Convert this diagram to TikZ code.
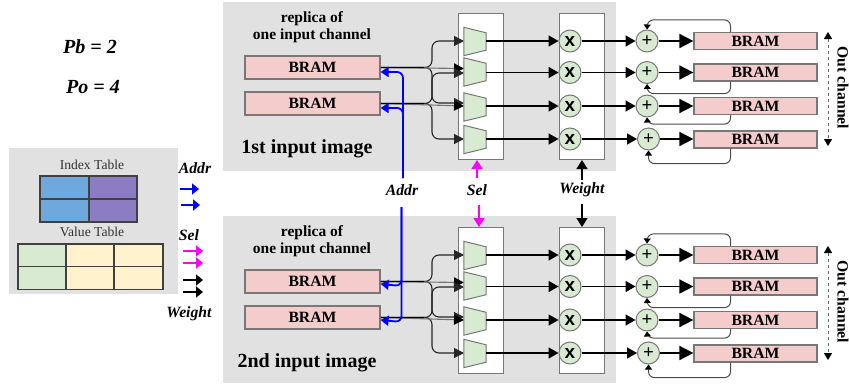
\documentclass[tikz,border=0pt]{standalone}
\usepackage{fontspec}
\setmainfont{Liberation Serif}
\setsansfont{Liberation Sans}
\usetikzlibrary{arrows.meta}
\definecolor{panel}{HTML}{E1E1E1}
\definecolor{edgegray}{HTML}{777777}
\definecolor{bramred}{HTML}{F4CCCC}
\definecolor{opgreen}{HTML}{D9EAD3}
\definecolor{tabblue}{HTML}{6FA8DC}
\definecolor{tabpurple}{HTML}{8E7CC3}
\definecolor{tabyellow}{HTML}{FFF2CC}
\definecolor{sigblue}{HTML}{0000FF}
\definecolor{sigmag}{HTML}{FF00FF}
\tikzset{
  panelbox/.style={fill=panel,draw=none,anchor=north west,inner sep=0pt},
  holder/.style={fill=white,draw=edgegray,line width=1pt,anchor=north west,inner sep=0pt,minimum width=45pt,minimum height=146pt},
  brambox/.style={fill=bramred,draw=edgegray,line width=1.2pt,inner sep=0pt,font=\fontsize{15.7}{16}\selectfont\bfseries},
  inbram/.style={brambox,minimum width=135pt,minimum height=23pt},
  outbram/.style={brambox,minimum width=123pt,minimum height=17pt},
  muxarea/.style={minimum width=22pt,minimum height=28pt,inner sep=0pt},
  muxpoly/.style={fill=opgreen,draw=edgegray,line width=1pt},
  opcirc/.style={circle,fill=opgreen,draw=edgegray,line width=1pt,minimum size=22pt,inner sep=0pt},
  mulglyph/.style={font=\sffamily\fontsize{19}{19}\selectfont\bfseries,inner sep=0pt},
  addglyph/.style={font=\fontsize{19}{19}\selectfont\bfseries,inner sep=0pt},
  bigsig/.style={line width=1.6pt,-{Triangle[length=10pt,width=11pt]}},
  medsig/.style={line width=1.5pt,-{Triangle[length=9pt,width=11pt]}},
  hugesig/.style={line width=1.6pt,-{Triangle[length=14pt,width=14pt]}},
  fan/.style={line width=1.1pt,draw=black!85,rounded corners=7pt,-{Triangle[length=10pt,width=10pt]}},
  fanflat/.style={line width=1.1pt,draw=black!55,-{Triangle[length=10pt,width=10pt,black]}},
  fback/.style={line width=1pt,draw=black!70,rounded corners=6pt,-{Triangle[length=5pt,width=7pt,black]}},
  sigblue line/.style={line width=1.8pt,draw=sigblue,rounded corners=6pt,-{Triangle[length=8pt,width=10pt]}},
  keyarrow/.style={line width=1.7pt,-{Triangle[length=7pt,width=11pt]}},
  sigtext/.style={font=\fontsize{15.7}{16}\selectfont\bfseries\itshape,inner sep=0pt},
  paramtext/.style={font=\fontsize{20}{21}\selectfont\bfseries\itshape,inner sep=0pt},
  smalltitle/.style={font=\fontsize{15.5}{17}\selectfont\bfseries,align=center,inner sep=0pt},
  imagetitle/.style={font=\fontsize{20}{21}\selectfont\bfseries,inner sep=0pt},
  tabletitle/.style={font=\fontsize{13.6}{14}\selectfont,text=black!80,inner sep=0pt},
  cellbox/.style={draw=black!75,line width=1.5pt,anchor=north west,inner sep=0pt},
}
\begin{document}
\begin{tikzpicture}[x=1pt,y=-1pt]
\useasboundingbox (0,0) rectangle (849,383);
% panels
\node[panelbox,minimum width=393pt,minimum height=169pt] (panelA) at (223,2) {};
\node[panelbox,minimum width=393pt,minimum height=167pt] (panelB) at (223,216) {};
\node[panelbox,minimum width=169pt,minimum height=146pt] (panelK) at (9,148) {};
% global texts
\node[paramtext] (pb) at (90,47) {Pb = 2};
\node[paramtext] (po) at (93,87) {Po = 4};
% key panel
\node[tabletitle] (ixt) at (92,165) {Index Table};
\node[tabletitle] (vlt) at (92,232) {Value Table};
\foreach \nm/\xa/\ya/\cw/\col in {ia/39/175/49/tabblue,ib/88/175/48/tabpurple,ic/39/198/49/tabblue,id/88/198/48/tabpurple,
  va/17/243/48/opgreen,vb/65/243/48/tabyellow,vc/113/243/49/tabyellow,vd/17/265.5/48/opgreen,ve/65/265.5/48/tabyellow,vf/113/265.5/49/tabyellow}{
  \node[cellbox,fill=\col,minimum width=\cw pt,minimum height=23pt] (\nm) at (\xa,\ya) {};
}
\node[sigtext] (kaddr) at (195,168) {Addr};
\node[sigtext] (ksel) at (189,235) {Sel};
\node[sigtext] (kwei) at (189,314) {Weight};
\coordinate (ka1) at (180,189); \coordinate (ka2) at (199,189);
\coordinate (ka3) at (181,205); \coordinate (ka4) at (200,205);
\coordinate (ks1) at (183,251); \coordinate (ks2) at (203,251);
\coordinate (ks3) at (183,263); \coordinate (ks4) at (203,263);
\coordinate (kw1) at (183,280); \coordinate (kw2) at (203,280);
\coordinate (kw3) at (183,292); \coordinate (kw4) at (203,292);
\draw[keyarrow,sigblue] (ka1) -- (ka2);
\draw[keyarrow,sigblue] (ka3) -- (ka4);
\draw[keyarrow,sigmag] (ks1) -- (ks2);
\draw[keyarrow,sigmag] (ks3) -- (ks4);
\draw[keyarrow] (kw1) -- (kw2);
\draw[keyarrow] (kw3) -- (kw4);
% the two image blocks
\foreach \p/\dy/\ttl/\tty in {t/0/1st input image/148.5,b/214/2nd input image/362.5}{
\begin{scope}[shift={(0,\dy)}]
  \node[smalltitle] (\p title) at (312,27) {replica of\\one input channel};
  \node[inbram] (\p in1) at (312.5,67.5) {BRAM};
  \node[inbram] (\p in2) at (312.5,103.5) {BRAM};
  \node[holder] (\p muxh) at (458,13) {};
  \node[holder] (\p mulh) at (559,13) {};
  \node[muxarea] (\p mux1) at (475,41.5) {};
  \node[muxarea] (\p mux2) at (475,72) {};
  \node[muxarea] (\p mux3) at (475,107) {};
  \node[muxarea] (\p mux4) at (475,139.5) {};
  \node[opcirc] (\p mul1) at (570,41) {};
  \node[opcirc] (\p mul2) at (570,72.5) {};
  \node[opcirc] (\p mul3) at (570,106) {};
  \node[opcirc] (\p mul4) at (570,139) {};
  \node[opcirc] (\p add1) at (647,41) {};
  \node[opcirc] (\p add2) at (647,72.5) {};
  \node[opcirc] (\p add3) at (647,106) {};
  \node[opcirc] (\p add4) at (648.5,139) {};
  \node[outbram] (\p out1) at (755.5,41) {BRAM};
  \node[outbram] (\p out2) at (755.5,72.5) {BRAM};
  \node[outbram] (\p out3) at (755.5,106) {BRAM};
  \node[outbram] (\p out4) at (755.5,139.5) {BRAM};
  \foreach \k in {1,2,3,4}{
    \node[mulglyph] at (\p mul\k.center) {x};
    \node[addglyph] at (\p add\k.center) {+};
  }
  % fan-out
  \draw[fan] (\p in1.east) -- (432,67.5) -- (432,41) -- (464,41);
  \draw[fan] (\p in1.east) -- (432,67.5) -- (432,103) -- (464,103);
  \draw[fanflat] (\p in1.east) -- (464,68.5);
  \draw[fan] (\p in2.east) -- (432,103.5) -- (432,73) -- (464,73);
  \draw[fan] (\p in2.east) -- (432,103.5) -- (432,139) -- (464,139);
  \draw[fanflat] (\p in2.east) -- (464,106);
  \draw[line width=1.3pt] (\p in1.east) -- (424,67.5);
  \draw[line width=1.3pt] (\p in2.east) -- (424,103.5);
  % data path
  \foreach \k in {1,2,3,4}{
    \draw[muxpoly] (\p mux\k.north west) -- ([yshift=-5.5pt]\p mux\k.north east) -- ([yshift=5.5pt]\p mux\k.south east) -- (\p mux\k.south west) -- cycle;
    \draw[bigsig] (\p mul\k.west -| \p mux\k.east) -- (\p mul\k.west);
    \draw[bigsig] (\p mul\k.east) -- (\p add\k.west);
    \draw[hugesig] (\p add\k.east) -- (\p add\k.east -| \p out\k.west);
  }
  % feedback
  \draw[fback] ([xshift=-25pt]\p out1.north) -- ++(0,-12) -- ++(-83,0) -- (\p add1.north);
  \draw[fback] ([xshift=-25pt]\p out2.south) -- ++(0,12) -- ++(-83,0) -- (\p add2.south);
  \draw[fback] ([xshift=-25pt]\p out3.south) -- ++(0,9) -- ++(-83,0) -- (\p add3.south);
  \draw[fback] ([xshift=-25pt]\p out4.south) -- ++(0,15) -- ++(-82,0) -- (\p add4.south);
  % out channel
  \coordinate (\p ob) at (828,32);
  \coordinate (\p oc) at (828,146);
  \draw[line width=1pt,dashed,draw=black!60,{Triangle[length=7pt,width=8pt,black]}-{Triangle[length=7pt,width=8pt,black]}] (\p ob) -- (\p oc);
  \node[font=\fontsize{15.7}{16}\selectfont\bfseries,inner sep=0pt,rotate=-90] (\p olab) at (843,88) {Out channel};
  \node[imagetitle] (\p img) at (307,\tty-\dy) {\ttl};
\end{scope}
}
% shared labels
\node[sigtext] (addr) at (402,190) {Addr};
\node[sigtext] (sel) at (477,190) {Sel};
\node[sigtext] (wei) at (582,190) {Weight};
% addr
\coordinate (a1) at (403,178);
\coordinate (a2) at (401.5,207);
\draw[sigblue line] (a1) -- (403,72) -- ([yshift=-4.5pt]tin1.east);
\draw[sigblue line] (a1) -- (403,108) -- ([yshift=-4.5pt]tin2.east);
\draw[sigblue line] (a2) -- (401.5,286) -- ([yshift=-2.5pt]bin1.east);
\draw[sigblue line] (a2) -- (401.5,322) -- ([yshift=-2.5pt]bin2.east);
% sel
\coordinate (s1) at (477,178);
\coordinate (s2) at (479,205);
\draw[medsig,sigmag] (s1) -- (s1 |- tmuxh.south);
\draw[medsig,sigmag] (s2) -- (s2 |- bmuxh.north);
% weight
\coordinate (w1) at (582,180);
\coordinate (w2) at (582,204);
\draw[medsig] (w1) -- (w1 |- tmulh.south);
\draw[medsig] (w2) -- (w2 |- bmulh.north);
\end{tikzpicture}
\end{document}
